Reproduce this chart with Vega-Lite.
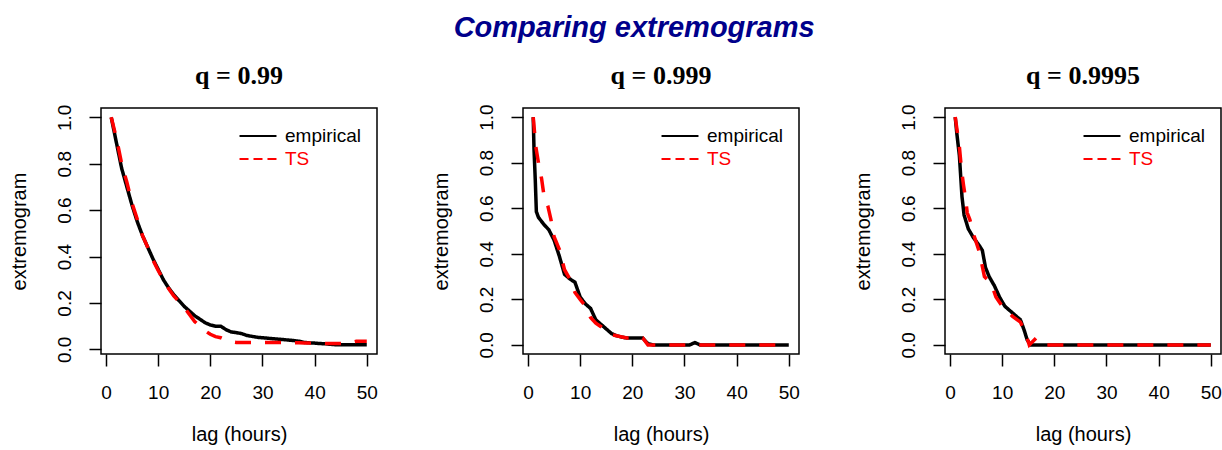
{
  "$schema": "https://vega.github.io/schema/vega-lite/v6.json",
  "padding": {"left": 8, "top": 14, "right": 4, "bottom": 4},
  "background": "white",
  "title": {
    "text": "Comparing extremograms",
    "font": "Liberation Sans",
    "fontSize": 29,
    "fontWeight": "bold",
    "fontStyle": "italic",
    "color": "#00008B",
    "anchor": "middle",
    "dx": 19,
    "offset": 19
  },
  "datasets": {
    "ext": [
      {"p":1,"s":"empirical","lag":1,"v":1.0},{"p":1,"s":"empirical","lag":2,"v":0.89},{"p":1,"s":"empirical","lag":3,"v":0.78},{"p":1,"s":"empirical","lag":4,"v":0.70},{"p":1,"s":"empirical","lag":5,"v":0.62},{"p":1,"s":"empirical","lag":6,"v":0.55},{"p":1,"s":"empirical","lag":7,"v":0.49},{"p":1,"s":"empirical","lag":8,"v":0.44},{"p":1,"s":"empirical","lag":9,"v":0.39},{"p":1,"s":"empirical","lag":10,"v":0.345},
      {"p":1,"s":"empirical","lag":11,"v":0.30},{"p":1,"s":"empirical","lag":12,"v":0.265},{"p":1,"s":"empirical","lag":13,"v":0.235},{"p":1,"s":"empirical","lag":14,"v":0.21},{"p":1,"s":"empirical","lag":15,"v":0.185},{"p":1,"s":"empirical","lag":16,"v":0.165},{"p":1,"s":"empirical","lag":17,"v":0.145},{"p":1,"s":"empirical","lag":18,"v":0.13},{"p":1,"s":"empirical","lag":19,"v":0.115},{"p":1,"s":"empirical","lag":20,"v":0.105},
      {"p":1,"s":"empirical","lag":21,"v":0.10},{"p":1,"s":"empirical","lag":22,"v":0.10},{"p":1,"s":"empirical","lag":23,"v":0.085},{"p":1,"s":"empirical","lag":24,"v":0.075},{"p":1,"s":"empirical","lag":25,"v":0.072},{"p":1,"s":"empirical","lag":26,"v":0.068},{"p":1,"s":"empirical","lag":27,"v":0.06},{"p":1,"s":"empirical","lag":28,"v":0.056},{"p":1,"s":"empirical","lag":29,"v":0.052},{"p":1,"s":"empirical","lag":30,"v":0.05},
      {"p":1,"s":"empirical","lag":31,"v":0.048},{"p":1,"s":"empirical","lag":32,"v":0.046},{"p":1,"s":"empirical","lag":33,"v":0.044},{"p":1,"s":"empirical","lag":34,"v":0.042},{"p":1,"s":"empirical","lag":35,"v":0.04},{"p":1,"s":"empirical","lag":36,"v":0.038},{"p":1,"s":"empirical","lag":37,"v":0.035},{"p":1,"s":"empirical","lag":38,"v":0.03},{"p":1,"s":"empirical","lag":39,"v":0.028},{"p":1,"s":"empirical","lag":40,"v":0.027},
      {"p":1,"s":"empirical","lag":41,"v":0.025},{"p":1,"s":"empirical","lag":42,"v":0.024},{"p":1,"s":"empirical","lag":43,"v":0.022},{"p":1,"s":"empirical","lag":44,"v":0.02},{"p":1,"s":"empirical","lag":45,"v":0.02},{"p":1,"s":"empirical","lag":46,"v":0.02},{"p":1,"s":"empirical","lag":47,"v":0.02},{"p":1,"s":"empirical","lag":48,"v":0.02},{"p":1,"s":"empirical","lag":49,"v":0.02},{"p":1,"s":"empirical","lag":50,"v":0.02},

      {"p":1,"s":"TS","lag":1,"v":1.0},{"p":1,"s":"TS","lag":2,"v":0.91},{"p":1,"s":"TS","lag":3,"v":0.80},{"p":1,"s":"TS","lag":4,"v":0.72},{"p":1,"s":"TS","lag":5,"v":0.63},{"p":1,"s":"TS","lag":6,"v":0.56},{"p":1,"s":"TS","lag":7,"v":0.49},{"p":1,"s":"TS","lag":8,"v":0.44},{"p":1,"s":"TS","lag":9,"v":0.385},{"p":1,"s":"TS","lag":10,"v":0.34},
      {"p":1,"s":"TS","lag":11,"v":0.30},{"p":1,"s":"TS","lag":12,"v":0.262},{"p":1,"s":"TS","lag":13,"v":0.23},{"p":1,"s":"TS","lag":14,"v":0.205},{"p":1,"s":"TS","lag":15,"v":0.18},{"p":1,"s":"TS","lag":16,"v":0.15},{"p":1,"s":"TS","lag":17,"v":0.12},{"p":1,"s":"TS","lag":18,"v":0.10},{"p":1,"s":"TS","lag":19,"v":0.08},{"p":1,"s":"TS","lag":20,"v":0.065},
      {"p":1,"s":"TS","lag":21,"v":0.055},{"p":1,"s":"TS","lag":22,"v":0.05},{"p":1,"s":"TS","lag":23,"v":0.04},{"p":1,"s":"TS","lag":24,"v":0.033},{"p":1,"s":"TS","lag":25,"v":0.03},{"p":1,"s":"TS","lag":26,"v":0.03},{"p":1,"s":"TS","lag":27,"v":0.03},{"p":1,"s":"TS","lag":28,"v":0.03},{"p":1,"s":"TS","lag":29,"v":0.03},{"p":1,"s":"TS","lag":30,"v":0.03},
      {"p":1,"s":"TS","lag":31,"v":0.03},{"p":1,"s":"TS","lag":32,"v":0.03},{"p":1,"s":"TS","lag":33,"v":0.03},{"p":1,"s":"TS","lag":34,"v":0.03},{"p":1,"s":"TS","lag":35,"v":0.03},{"p":1,"s":"TS","lag":36,"v":0.028},{"p":1,"s":"TS","lag":37,"v":0.028},{"p":1,"s":"TS","lag":38,"v":0.027},{"p":1,"s":"TS","lag":39,"v":0.027},{"p":1,"s":"TS","lag":40,"v":0.026},
      {"p":1,"s":"TS","lag":41,"v":0.026},{"p":1,"s":"TS","lag":42,"v":0.025},{"p":1,"s":"TS","lag":43,"v":0.025},{"p":1,"s":"TS","lag":44,"v":0.025},{"p":1,"s":"TS","lag":45,"v":0.025},{"p":1,"s":"TS","lag":46,"v":0.025},{"p":1,"s":"TS","lag":47,"v":0.03},{"p":1,"s":"TS","lag":48,"v":0.035},{"p":1,"s":"TS","lag":49,"v":0.035},{"p":1,"s":"TS","lag":50,"v":0.035},

      {"p":2,"s":"empirical","lag":1,"v":1.0},{"p":2,"s":"empirical","lag":1.15,"v":0.86},{"p":2,"s":"empirical","lag":1.4,"v":0.72},{"p":2,"s":"empirical","lag":1.6,"v":0.585},{"p":2,"s":"empirical","lag":2,"v":0.56},{"p":2,"s":"empirical","lag":3,"v":0.53},{"p":2,"s":"empirical","lag":4,"v":0.505},{"p":2,"s":"empirical","lag":5,"v":0.46},{"p":2,"s":"empirical","lag":6,"v":0.39},{"p":2,"s":"empirical","lag":7,"v":0.31},
      {"p":2,"s":"empirical","lag":8,"v":0.29},{"p":2,"s":"empirical","lag":9,"v":0.275},{"p":2,"s":"empirical","lag":10,"v":0.21},{"p":2,"s":"empirical","lag":11,"v":0.18},{"p":2,"s":"empirical","lag":12,"v":0.16},{"p":2,"s":"empirical","lag":13,"v":0.11},{"p":2,"s":"empirical","lag":14,"v":0.09},{"p":2,"s":"empirical","lag":15,"v":0.07},{"p":2,"s":"empirical","lag":16,"v":0.05},{"p":2,"s":"empirical","lag":17,"v":0.04},
      {"p":2,"s":"empirical","lag":18,"v":0.034},{"p":2,"s":"empirical","lag":19,"v":0.03},{"p":2,"s":"empirical","lag":20,"v":0.03},{"p":2,"s":"empirical","lag":21,"v":0.03},{"p":2,"s":"empirical","lag":22,"v":0.03},{"p":2,"s":"empirical","lag":23,"v":0.005},{"p":2,"s":"empirical","lag":24,"v":0},{"p":2,"s":"empirical","lag":25,"v":0},{"p":2,"s":"empirical","lag":26,"v":0},{"p":2,"s":"empirical","lag":27,"v":0},
      {"p":2,"s":"empirical","lag":28,"v":0},{"p":2,"s":"empirical","lag":29,"v":0},{"p":2,"s":"empirical","lag":30,"v":0},{"p":2,"s":"empirical","lag":31,"v":0},{"p":2,"s":"empirical","lag":32,"v":0.01},{"p":2,"s":"empirical","lag":33,"v":0},{"p":2,"s":"empirical","lag":34,"v":0},{"p":2,"s":"empirical","lag":35,"v":0},{"p":2,"s":"empirical","lag":36,"v":0},{"p":2,"s":"empirical","lag":37,"v":0},
      {"p":2,"s":"empirical","lag":38,"v":0},{"p":2,"s":"empirical","lag":39,"v":0},{"p":2,"s":"empirical","lag":40,"v":0},{"p":2,"s":"empirical","lag":41,"v":0},{"p":2,"s":"empirical","lag":42,"v":0},{"p":2,"s":"empirical","lag":43,"v":0},{"p":2,"s":"empirical","lag":44,"v":0},{"p":2,"s":"empirical","lag":45,"v":0},{"p":2,"s":"empirical","lag":46,"v":0},{"p":2,"s":"empirical","lag":47,"v":0},
      {"p":2,"s":"empirical","lag":48,"v":0},{"p":2,"s":"empirical","lag":49,"v":0},{"p":2,"s":"empirical","lag":50,"v":0},

      {"p":2,"s":"TS","lag":1,"v":1.0},{"p":2,"s":"TS","lag":1.5,"v":0.87},{"p":2,"s":"TS","lag":2,"v":0.80},{"p":2,"s":"TS","lag":2.6,"v":0.73},{"p":2,"s":"TS","lag":3,"v":0.665},{"p":2,"s":"TS","lag":3.8,"v":0.61},{"p":2,"s":"TS","lag":4.4,"v":0.55},{"p":2,"s":"TS","lag":5,"v":0.475},{"p":2,"s":"TS","lag":6,"v":0.42},{"p":2,"s":"TS","lag":7,"v":0.33},
      {"p":2,"s":"TS","lag":8,"v":0.29},{"p":2,"s":"TS","lag":9,"v":0.23},{"p":2,"s":"TS","lag":10,"v":0.20},{"p":2,"s":"TS","lag":11,"v":0.17},{"p":2,"s":"TS","lag":12,"v":0.12},{"p":2,"s":"TS","lag":13,"v":0.095},{"p":2,"s":"TS","lag":14,"v":0.08},{"p":2,"s":"TS","lag":15,"v":0.058},{"p":2,"s":"TS","lag":16,"v":0.045},{"p":2,"s":"TS","lag":17,"v":0.04},
      {"p":2,"s":"TS","lag":18,"v":0.035},{"p":2,"s":"TS","lag":19,"v":0.03},{"p":2,"s":"TS","lag":20,"v":0.03},{"p":2,"s":"TS","lag":21,"v":0.03},{"p":2,"s":"TS","lag":22,"v":0.03},{"p":2,"s":"TS","lag":23,"v":0},{"p":2,"s":"TS","lag":24,"v":0},{"p":2,"s":"TS","lag":25,"v":0},{"p":2,"s":"TS","lag":26,"v":0},{"p":2,"s":"TS","lag":27,"v":0},
      {"p":2,"s":"TS","lag":28,"v":0},{"p":2,"s":"TS","lag":29,"v":0},{"p":2,"s":"TS","lag":30,"v":0},{"p":2,"s":"TS","lag":31,"v":0},{"p":2,"s":"TS","lag":32,"v":0},{"p":2,"s":"TS","lag":33,"v":0},{"p":2,"s":"TS","lag":34,"v":0},{"p":2,"s":"TS","lag":35,"v":0},{"p":2,"s":"TS","lag":36,"v":0},{"p":2,"s":"TS","lag":37,"v":0},
      {"p":2,"s":"TS","lag":38,"v":0},{"p":2,"s":"TS","lag":39,"v":0},{"p":2,"s":"TS","lag":40,"v":0},{"p":2,"s":"TS","lag":41,"v":0},{"p":2,"s":"TS","lag":42,"v":0},{"p":2,"s":"TS","lag":43,"v":0},{"p":2,"s":"TS","lag":44,"v":0},{"p":2,"s":"TS","lag":45,"v":0},{"p":2,"s":"TS","lag":46,"v":0},{"p":2,"s":"TS","lag":47,"v":0},
      {"p":2,"s":"TS","lag":48,"v":0},{"p":2,"s":"TS","lag":49,"v":0},{"p":2,"s":"TS","lag":50,"v":0},

      {"p":3,"s":"empirical","lag":1,"v":1.0},{"p":3,"s":"empirical","lag":1.3,"v":0.93},{"p":3,"s":"empirical","lag":1.8,"v":0.83},{"p":3,"s":"empirical","lag":2.3,"v":0.65},{"p":3,"s":"empirical","lag":2.7,"v":0.57},{"p":3,"s":"empirical","lag":3.5,"v":0.51},{"p":3,"s":"empirical","lag":4.5,"v":0.47},{"p":3,"s":"empirical","lag":5.5,"v":0.44},{"p":3,"s":"empirical","lag":6.2,"v":0.415},{"p":3,"s":"empirical","lag":6.8,"v":0.34},
      {"p":3,"s":"empirical","lag":7.5,"v":0.30},{"p":3,"s":"empirical","lag":8.5,"v":0.26},{"p":3,"s":"empirical","lag":9.5,"v":0.21},{"p":3,"s":"empirical","lag":10.5,"v":0.17},{"p":3,"s":"empirical","lag":11.5,"v":0.15},{"p":3,"s":"empirical","lag":12.5,"v":0.13},{"p":3,"s":"empirical","lag":13.5,"v":0.11},{"p":3,"s":"empirical","lag":14.2,"v":0.066},{"p":3,"s":"empirical","lag":14.8,"v":0.022},{"p":3,"s":"empirical","lag":15.5,"v":0},
      {"p":3,"s":"empirical","lag":16,"v":0},{"p":3,"s":"empirical","lag":17,"v":0},{"p":3,"s":"empirical","lag":18,"v":0},{"p":3,"s":"empirical","lag":19,"v":0},{"p":3,"s":"empirical","lag":20,"v":0},{"p":3,"s":"empirical","lag":21,"v":0},{"p":3,"s":"empirical","lag":22,"v":0},{"p":3,"s":"empirical","lag":23,"v":0},{"p":3,"s":"empirical","lag":24,"v":0},{"p":3,"s":"empirical","lag":25,"v":0},
      {"p":3,"s":"empirical","lag":26,"v":0},{"p":3,"s":"empirical","lag":27,"v":0},{"p":3,"s":"empirical","lag":28,"v":0},{"p":3,"s":"empirical","lag":29,"v":0},{"p":3,"s":"empirical","lag":30,"v":0},{"p":3,"s":"empirical","lag":31,"v":0},{"p":3,"s":"empirical","lag":32,"v":0},{"p":3,"s":"empirical","lag":33,"v":0},{"p":3,"s":"empirical","lag":34,"v":0},{"p":3,"s":"empirical","lag":35,"v":0},
      {"p":3,"s":"empirical","lag":36,"v":0},{"p":3,"s":"empirical","lag":37,"v":0},{"p":3,"s":"empirical","lag":38,"v":0},{"p":3,"s":"empirical","lag":39,"v":0},{"p":3,"s":"empirical","lag":40,"v":0},{"p":3,"s":"empirical","lag":41,"v":0},{"p":3,"s":"empirical","lag":42,"v":0},{"p":3,"s":"empirical","lag":43,"v":0},{"p":3,"s":"empirical","lag":44,"v":0},{"p":3,"s":"empirical","lag":45,"v":0},
      {"p":3,"s":"empirical","lag":46,"v":0},{"p":3,"s":"empirical","lag":47,"v":0},{"p":3,"s":"empirical","lag":48,"v":0},{"p":3,"s":"empirical","lag":49,"v":0},{"p":3,"s":"empirical","lag":50,"v":0},

      {"p":3,"s":"TS","lag":1,"v":1.0},{"p":3,"s":"TS","lag":1.8,"v":0.87},{"p":3,"s":"TS","lag":2.2,"v":0.77},{"p":3,"s":"TS","lag":2.6,"v":0.70},{"p":3,"s":"TS","lag":3,"v":0.64},{"p":3,"s":"TS","lag":3.3,"v":0.58},{"p":3,"s":"TS","lag":3.8,"v":0.55},{"p":3,"s":"TS","lag":4.6,"v":0.48},{"p":3,"s":"TS","lag":5.6,"v":0.41},{"p":3,"s":"TS","lag":6.6,"v":0.30},
      {"p":3,"s":"TS","lag":7.9,"v":0.27},{"p":3,"s":"TS","lag":8.8,"v":0.21},{"p":3,"s":"TS","lag":10,"v":0.17},{"p":3,"s":"TS","lag":12,"v":0.125},{"p":3,"s":"TS","lag":13.5,"v":0.10},{"p":3,"s":"TS","lag":14.5,"v":0.05},{"p":3,"s":"TS","lag":15.2,"v":0},{"p":3,"s":"TS","lag":16.5,"v":0.03},{"p":3,"s":"TS","lag":17.5,"v":0.01},{"p":3,"s":"TS","lag":18,"v":0},
      {"p":3,"s":"TS","lag":19,"v":0},{"p":3,"s":"TS","lag":20,"v":0},{"p":3,"s":"TS","lag":21,"v":0},{"p":3,"s":"TS","lag":22,"v":0},{"p":3,"s":"TS","lag":23,"v":0},{"p":3,"s":"TS","lag":24,"v":0},{"p":3,"s":"TS","lag":25,"v":0},{"p":3,"s":"TS","lag":26,"v":0},{"p":3,"s":"TS","lag":27,"v":0},{"p":3,"s":"TS","lag":28,"v":0},
      {"p":3,"s":"TS","lag":29,"v":0},{"p":3,"s":"TS","lag":30,"v":0},{"p":3,"s":"TS","lag":31,"v":0},{"p":3,"s":"TS","lag":32,"v":0},{"p":3,"s":"TS","lag":33,"v":0},{"p":3,"s":"TS","lag":34,"v":0},{"p":3,"s":"TS","lag":35,"v":0},{"p":3,"s":"TS","lag":36,"v":0},{"p":3,"s":"TS","lag":37,"v":0},{"p":3,"s":"TS","lag":38,"v":0},
      {"p":3,"s":"TS","lag":39,"v":0},{"p":3,"s":"TS","lag":40,"v":0},{"p":3,"s":"TS","lag":41,"v":0},{"p":3,"s":"TS","lag":42,"v":0},{"p":3,"s":"TS","lag":43,"v":0},{"p":3,"s":"TS","lag":44,"v":0},{"p":3,"s":"TS","lag":45,"v":0},{"p":3,"s":"TS","lag":46,"v":0},{"p":3,"s":"TS","lag":47,"v":0},{"p":3,"s":"TS","lag":48,"v":0},
      {"p":3,"s":"TS","lag":49,"v":0},{"p":3,"s":"TS","lag":50,"v":0}
    ]
  },
  "bounds": "flush",
  "spacing": 146,
  "resolve": {"legend": {"color": "independent", "strokeDash": "independent", "shape": "independent"}},
  "hconcat": [
    {
      "data": {"name": "ext"},
      "transform": [{"filter": "datum.p == 1"}],
      "width": 276, "height": 246,
      "title": {"text": "q = 0.99", "font": "Liberation Serif", "fontSize": 26, "fontWeight": "bold", "color": "black", "anchor": "middle", "frame": "group", "baseline": "alphabetic", "offset": -6},
      "encoding": {
        "x": {"field": "lag", "type": "quantitative", "title": "lag (hours)", "scale": {"domain": [-0.96, 51.96], "nice": false, "zero": false}, "axis": {"values": [0,10,20,30,40,50]}},
        "y": {"field": "v", "type": "quantitative", "title": "extremogram", "scale": {"domain": [-0.02, 1.04], "nice": false, "zero": false}, "axis": {"values": [0,0.2,0.4,0.6,0.8,1.0], "format": ".1f"}},
        "color": {"field": "s", "type": "nominal", "sort": ["empirical","TS"], "scale": {"domain": ["empirical","TS"], "range": ["black","red"]},
          "legend": {"encode": {"labels": {"update": {"fill": {"signal": "datum.value === 'TS' ? 'red' : 'black'"}}}}}}
      },
      "layer": [
        {
          "mark": {"type": "line", "interpolate": "linear", "strokeWidth": 3.5, "clip": true},
          "encoding": {
            "strokeDash": {"field": "s", "type": "nominal", "sort": ["empirical","TS"], "legend": null, "scale": {"domain": ["empirical","TS"], "range": [[1,0],[16,14]]}}
          }
        },
        {
          "transform": [{"filter": "datum.p == 0"}],
          "mark": {"type": "point", "filled": false, "opacity": 1, "strokeWidth": 2},
          "encoding": {
            "shape": {"field": "s", "type": "nominal", "sort": ["empirical","TS"], "scale": {"domain": ["empirical","TS"], "range": ["M-1.54,0H1.54", "M-1.54,0H-0.79M-0.375,0H0.375M0.79,0H1.54"]},
              "legend": {"encode": {"labels": {"update": {"fill": {"signal": "datum.value === 'TS' ? 'red' : 'black'"}}}}}}
          }
        }
      ]
    },
    {
      "data": {"name": "ext"},
      "transform": [{"filter": "datum.p == 2"}],
      "width": 276, "height": 246,
      "title": {"text": "q = 0.999", "font": "Liberation Serif", "fontSize": 26, "fontWeight": "bold", "color": "black", "anchor": "middle", "frame": "group", "baseline": "alphabetic", "offset": -6},
      "encoding": {
        "x": {"field": "lag", "type": "quantitative", "title": "lag (hours)", "scale": {"domain": [-0.96, 51.96], "nice": false, "zero": false}, "axis": {"values": [0,10,20,30,40,50]}},
        "y": {"field": "v", "type": "quantitative", "title": "extremogram", "scale": {"domain": [-0.04, 1.04], "nice": false, "zero": false}, "axis": {"values": [0,0.2,0.4,0.6,0.8,1.0], "format": ".1f"}},
        "color": {"field": "s", "type": "nominal", "sort": ["empirical","TS"], "scale": {"domain": ["empirical","TS"], "range": ["black","red"]},
          "legend": {"encode": {"labels": {"update": {"fill": {"signal": "datum.value === 'TS' ? 'red' : 'black'"}}}}}}
      },
      "layer": [
        {
          "mark": {"type": "line", "interpolate": "linear", "strokeWidth": 3.5, "clip": true},
          "encoding": {
            "strokeDash": {"field": "s", "type": "nominal", "sort": ["empirical","TS"], "legend": null, "scale": {"domain": ["empirical","TS"], "range": [[1,0],[16,14]]}}
          }
        },
        {
          "transform": [{"filter": "datum.p == 0"}],
          "mark": {"type": "point", "filled": false, "opacity": 1, "strokeWidth": 2},
          "encoding": {
            "shape": {"field": "s", "type": "nominal", "sort": ["empirical","TS"], "scale": {"domain": ["empirical","TS"], "range": ["M-1.54,0H1.54", "M-1.54,0H-0.79M-0.375,0H0.375M0.79,0H1.54"]},
              "legend": {"encode": {"labels": {"update": {"fill": {"signal": "datum.value === 'TS' ? 'red' : 'black'"}}}}}}
          }
        }
      ]
    },
    {
      "data": {"name": "ext"},
      "transform": [{"filter": "datum.p == 3"}],
      "width": 276, "height": 246,
      "title": {"text": "q = 0.9995", "font": "Liberation Serif", "fontSize": 26, "fontWeight": "bold", "color": "black", "anchor": "middle", "frame": "group", "baseline": "alphabetic", "offset": -6},
      "encoding": {
        "x": {"field": "lag", "type": "quantitative", "title": "lag (hours)", "scale": {"domain": [-0.96, 51.96], "nice": false, "zero": false}, "axis": {"values": [0,10,20,30,40,50]}},
        "y": {"field": "v", "type": "quantitative", "title": "extremogram", "scale": {"domain": [-0.04, 1.04], "nice": false, "zero": false}, "axis": {"values": [0,0.2,0.4,0.6,0.8,1.0], "format": ".1f"}},
        "color": {"field": "s", "type": "nominal", "sort": ["empirical","TS"], "scale": {"domain": ["empirical","TS"], "range": ["black","red"]},
          "legend": {"encode": {"labels": {"update": {"fill": {"signal": "datum.value === 'TS' ? 'red' : 'black'"}}}}}}
      },
      "layer": [
        {
          "mark": {"type": "line", "interpolate": "linear", "strokeWidth": 3.5, "clip": true},
          "encoding": {
            "strokeDash": {"field": "s", "type": "nominal", "sort": ["empirical","TS"], "legend": null, "scale": {"domain": ["empirical","TS"], "range": [[1,0],[16,14]]}}
          }
        },
        {
          "transform": [{"filter": "datum.p == 0"}],
          "mark": {"type": "point", "filled": false, "opacity": 1, "strokeWidth": 2},
          "encoding": {
            "shape": {"field": "s", "type": "nominal", "sort": ["empirical","TS"], "scale": {"domain": ["empirical","TS"], "range": ["M-1.54,0H1.54", "M-1.54,0H-0.79M-0.375,0H0.375M0.79,0H1.54"]},
              "legend": {"encode": {"labels": {"update": {"fill": {"signal": "datum.value === 'TS' ? 'red' : 'black'"}}}}}}
          }
        }
      ]
    }
  ],
  "config": {
    "font": "Liberation Sans",
    "view": {"stroke": "black", "strokeWidth": 1.5},
    "axis": {
      "domain": false, "grid": false,
      "ticks": true, "tickColor": "black", "tickSize": 12, "tickWidth": 1.5,
      "labelFont": "Liberation Sans", "labelFontSize": 19, "labelColor": "black",
      "titleFont": "Liberation Sans", "titleFontSize": 20, "titleFontWeight": "normal", "titleColor": "black"
    },
    "axisX": {"labelPadding": 17, "titlePadding": 22, "labelFlush": false},
    "axisY": {"labelAngle": -90, "labelAlign": "center", "labelBaseline": "bottom", "labelPadding": 15, "titlePadding": 26},
    "legend": {
      "orient": "top-right", "title": null, "offset": 15, "padding": 0,
      "symbolType": "M-1.54,0H1.54", "symbolSize": 576, "symbolStrokeWidth": 2,
      "labelFont": "Liberation Sans", "labelFontSize": 19, "labelOffset": 14, "rowPadding": -1,
      "fillColor": null, "strokeColor": null
    }
  }
}
